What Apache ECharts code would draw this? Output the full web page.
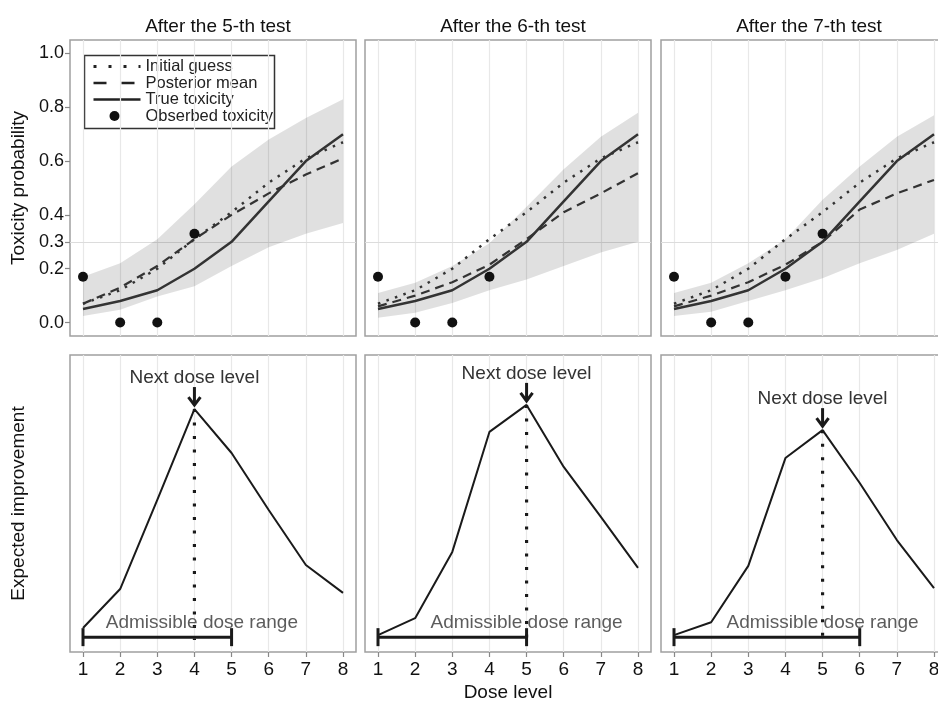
<!DOCTYPE html>
<html>
<head>
<meta charset="utf-8">
<script src="https://cdn.jsdelivr.net/npm/echarts@6/dist/echarts.min.js"></script>
<style>
  html, body { margin: 0; padding: 0; background: #fff; }
  #chart { width: 938px; height: 701px; }
</style>
</head>
<body>
<div id="chart"></div>
<script>
// dose levels and tick values
const doses = [1, 2, 3, 4, 5, 6, 7, 8];
const toxTicks = [0, 0.2, 0.3, 0.4, 0.6, 0.8, 1.0];
const targetTox = 0.3;
const titles = ['After the 5-th test', 'After the 6-th test', 'After the 7-th test'];

// curves shared by all panels
const trueTox = [0.05, 0.08, 0.12, 0.20, 0.30, 0.45, 0.60, 0.70];
const initialGuess = [0.07, 0.12, 0.20, 0.31, 0.41, 0.52, 0.61, 0.67];

// posterior mean + credible band per panel
const postMean5 = [0.07, 0.13, 0.21, 0.31, 0.40, 0.48, 0.55, 0.61];
const bandLo5 = [0.024, 0.048, 0.097, 0.135, 0.21, 0.28, 0.33, 0.37];
const bandHi5 = [0.17, 0.22, 0.31, 0.44, 0.58, 0.68, 0.76, 0.83];
const postMean6 = [0.06, 0.10, 0.15, 0.215, 0.31, 0.41, 0.48, 0.555];
const bandLo6 = [0.018, 0.036, 0.073, 0.12, 0.16, 0.21, 0.26, 0.30];
const bandHi6 = [0.11, 0.148, 0.21, 0.295, 0.43, 0.57, 0.69, 0.78];
const postMean7 = [0.06, 0.10, 0.15, 0.215, 0.30, 0.42, 0.48, 0.53];
const bandLo7 = [0.024, 0.04, 0.08, 0.12, 0.165, 0.22, 0.27, 0.33];
const bandHi7 = [0.11, 0.148, 0.22, 0.31, 0.456, 0.58, 0.69, 0.77];

// observed toxicity rates
const obsDose5 = [1, 2, 3, 4];
const obsTox5 = [0.17, 0, 0, 0.33];
const obsDose6 = [1, 2, 3, 4];
const obsTox6 = [0.17, 0, 0, 0.17];
const obsDose7 = [1, 2, 3, 4, 5];
const obsTox7 = [0.17, 0, 0, 0.17, 0.33];

// expected improvement (arbitrary units)
const ei5 = [0.081, 0.212, 0.512, 0.818, 0.67, 0.478, 0.293, 0.199];
const ei6 = [0.057, 0.114, 0.337, 0.741, 0.832, 0.623, 0.455, 0.283];
const ei7 = [0.057, 0.10, 0.29, 0.653, 0.747, 0.569, 0.377, 0.215];
const nextDose = [4, 5, 5];
const admissibleMax = [5, 5, 6];
const admissibleY = 0.05;
const eiFloor = 0.04;
const rangeLabelX = [4.2, 5.0, 5.0];
const rangeLabelY = 0.098;

const postMeans = [postMean5, postMean6, postMean7];
const bandLos = [bandLo5, bandLo6, bandLo7];
const bandHis = [bandHi5, bandHi6, bandHi7];
const obsDoses = [obsDose5, obsDose6, obsDose7];
const obsToxs = [obsTox5, obsTox6, obsTox7];
const eis = [ei5, ei6, ei7];

const FONT = '"Liberation Sans", Arial, sans-serif';
const INK = '#1a1a1a';
const lefts = [70, 365, 661];
const W = 286;

const pairs = (xs, ys) => xs.map((x, i) => [x, ys[i]]);

const chart = echarts.init(document.getElementById('chart'));

const grid = [], xAxis = [], yAxis = [], series = [], title = [];

for (let i = 0; i < 3; i++) {
  grid.push({ left: lefts[i], top: 40, width: W, height: 296, outerBoundsMode: 'none', show: true, borderColor: '#a0a0a0', borderWidth: 1.5, backgroundColor: 'transparent' });
  title.push({
    text: titles[i], left: lefts[i] + W / 2, top: 12, textAlign: 'center',
    textStyle: { fontSize: 19, fontWeight: 'normal', color: '#111', fontFamily: FONT }
  });
}
for (let i = 0; i < 3; i++) {
  grid.push({ left: lefts[i], top: 355, width: W, height: 297, outerBoundsMode: 'none', show: true, borderColor: '#a0a0a0', borderWidth: 1.5, backgroundColor: 'transparent' });
}

for (let g = 0; g < 6; g++) {
  const bottom = g >= 3;
  xAxis.push({
    type: 'value', gridIndex: g, min: 0.65, max: 8.35,
    axisLine: { show: false },
    splitLine: { show: false },
    axisTick: { show: bottom, customValues: doses, length: 5, lineStyle: { color: '#888', width: 1.2 } },
    axisLabel: { show: bottom, customValues: doses, fontSize: 19, color: '#111', fontFamily: FONT, margin: 8 },
    name: g === 4 ? 'Dose level' : '',
    nameLocation: 'middle', nameGap: 31,
    nameTextStyle: { fontSize: 19, color: '#111', fontFamily: FONT }
  });
  const first = g === 0 || g === 3;
  yAxis.push({
    type: 'value', gridIndex: g,
    min: bottom ? 0 : -0.05, max: bottom ? 1 : 1.05,
    axisLine: { show: false },
    splitLine: { show: false },
    axisTick: { show: g === 0, customValues: toxTicks, length: 5, lineStyle: { color: '#888', width: 1.2 } },
    axisLabel: { show: g === 0, customValues: toxTicks, formatter: v => v.toFixed(1), fontSize: 18, color: '#111', fontFamily: FONT, margin: 6 },
    name: first ? (bottom ? 'Expected improvement' : 'Toxicity probability') : '',
    nameLocation: 'middle', nameRotate: 90, nameGap: 42,
    nameTextStyle: { fontSize: 19, color: '#111', fontFamily: FONT }
  });
}

const gridLines = (withTarget) => {
  const d = doses.map(x => ({ xAxis: x }));
  if (withTarget) d.push({ yAxis: targetTox, lineStyle: { color: '#dcdcdc', width: 1.2 } });
  return {
    silent: true, z: 0, symbol: ['none', 'none'], label: { show: false },
    lineStyle: { color: '#e8e8e8', width: 1.2, type: 'solid' }, data: d
  };
};

for (let i = 0; i < 3; i++) {
  const t = i, b = 3 + i;
  const lo = bandLos[i], hi = bandHis[i];
  // top panel
  series.push({ type: 'line', xAxisIndex: t, yAxisIndex: t, data: [], z: 0, markLine: gridLines(true) });
  series.push({
    type: 'custom', xAxisIndex: t, yAxisIndex: t, z: 2, silent: true,
    data: doses.map((d, k) => [d, lo[k], hi[k]]),
    encode: { x: 0, y: [1, 2] },
    renderItem: (params, api) => {
      if (params.dataIndex !== 0) return null;
      const upper = doses.map((d, k) => api.coord([d, hi[k]]));
      const lower = doses.map((d, k) => api.coord([d, lo[k]])).reverse();
      return { type: 'polygon', shape: { points: upper.concat(lower) }, style: { fill: 'rgba(0,0,0,0.12)' } };
    }
  });
  series.push({
    type: 'line', xAxisIndex: t, yAxisIndex: t, z: 3, symbol: 'none', name: 'Initial guess',
    lineStyle: { color: '#333', width: 2.5, type: [2.5, 6.5] }, data: pairs(doses, initialGuess)
  });
  series.push({
    type: 'line', xAxisIndex: t, yAxisIndex: t, z: 3, symbol: 'none', name: 'Posterior mean',
    lineStyle: { color: '#333', width: 2.2, type: [9, 6] }, data: pairs(doses, postMeans[i])
  });
  series.push({
    type: 'line', xAxisIndex: t, yAxisIndex: t, z: 3, symbol: 'none', name: 'True toxicity',
    lineStyle: { color: '#333', width: 2.5 }, data: pairs(doses, trueTox)
  });
  series.push({
    type: 'scatter', xAxisIndex: t, yAxisIndex: t, z: 4, name: 'Obserbed toxicity',
    symbolSize: 10, itemStyle: { color: '#111', opacity: 1 }, data: pairs(obsDoses[i], obsToxs[i])
  });

  // bottom panel
  series.push({ type: 'line', xAxisIndex: b, yAxisIndex: b, data: [], z: 0, markLine: gridLines(false) });
  series.push({
    type: 'line', xAxisIndex: b, yAxisIndex: b, z: 3, symbol: 'none',
    lineStyle: { color: INK, width: 2 }, data: pairs(doses, eis[i])
  });
  const nd = nextDose[i];
  series.push({
    type: 'line', xAxisIndex: b, yAxisIndex: b, z: 3, symbol: 'none',
    lineStyle: { color: INK, width: 3.2, type: [3, 10.5] },
    data: [[nd, eis[i][nd - 1]], [nd, eiFloor]]
  });
  series.push({
    type: 'custom', xAxisIndex: b, yAxisIndex: b, z: 4,
    data: [[1, admissibleMax[i], admissibleY]],
    encode: { x: [0, 1], y: 2 },
    renderItem: (params, api) => {
      const a = api.coord([api.value(0), api.value(2)]);
      const c = api.coord([api.value(1), api.value(2)]);
      const st = { stroke: INK, lineWidth: 3 };
      return {
        type: 'group', children: [
          { type: 'line', shape: { x1: a[0], y1: a[1], x2: c[0], y2: c[1] }, style: st },
          { type: 'line', shape: { x1: a[0], y1: a[1] - 9, x2: a[0], y2: a[1] + 9 }, style: st },
          { type: 'line', shape: { x1: c[0], y1: c[1] - 9, x2: c[0], y2: c[1] + 9 }, style: st }
        ]
      };
    }
  });
  series.push({
    type: 'scatter', xAxisIndex: b, yAxisIndex: b, z: 5, symbolSize: 0, silent: true,
    data: [[rangeLabelX[i], rangeLabelY]],
    label: { show: true, position: 'inside', formatter: 'Admissible dose range', fontSize: 19, color: '#333', fontFamily: FONT }
  });
  series.push({
    type: 'custom', xAxisIndex: b, yAxisIndex: b, z: 5,
    data: [[nd, eis[i][nd - 1]]],
    renderItem: (params, api) => {
      const p = api.coord([api.value(0), api.value(1)]);
      const st = { stroke: INK, lineWidth: 3, fill: null };
      return {
        type: 'group', children: [
          { type: 'line', shape: { x1: p[0], y1: p[1] - 22, x2: p[0], y2: p[1] - 4 }, style: st },
          { type: 'polyline', shape: { points: [[p[0] - 6, p[1] - 12], [p[0], p[1] - 4], [p[0] + 6, p[1] - 12]] }, style: st },
          { type: 'text', x: p[0], y: p[1] - 31, style: { text: 'Next dose level', fontSize: 19, fontFamily: FONT, fill: '#333', align: 'center', verticalAlign: 'middle' } }
        ]
      };
    }
  });
}

// legend box inside the first panel
const legendItems = [
  { label: 'Initial guess', dash: [3, 12], width: 3 },
  { label: 'Posterior mean', dash: [13, 15], width: 2.5 },
  { label: 'True toxicity', dash: null, width: 2.5 },
  { label: 'Obserbed toxicity', dot: true }
];
const legendChildren = [
  { type: 'rect', shape: { x: 0, y: 0, width: 190, height: 73 }, style: { fill: null, stroke: '#333', lineWidth: 1.5 } }
];
legendItems.forEach((it, k) => {
  const y = 11 + k * 16.5;
  if (it.dot) {
    legendChildren.push({ type: 'circle', shape: { cx: 30, cy: y, r: 5 }, style: { fill: '#111' } });
  } else {
    legendChildren.push({
      type: 'line', shape: { x1: 9, y1: y, x2: 56, y2: y },
      style: { stroke: '#222', lineWidth: it.width, lineDash: it.dash }
    });
  }
  legendChildren.push({
    type: 'text', x: 61, y: y, style: { text: it.label, fontSize: 16.5, fontFamily: FONT, fill: '#222', verticalAlign: 'middle' }
  });
});

chart.setOption({
  animation: false,
  backgroundColor: '#fff',
  textStyle: { fontFamily: FONT },
  title: title,
  grid: grid,
  xAxis: xAxis,
  yAxis: yAxis,
  series: series,
  graphic: [{ type: 'group', left: 82, top: 53, z: 10, children: legendChildren }]
});
</script>
</body>
</html>
